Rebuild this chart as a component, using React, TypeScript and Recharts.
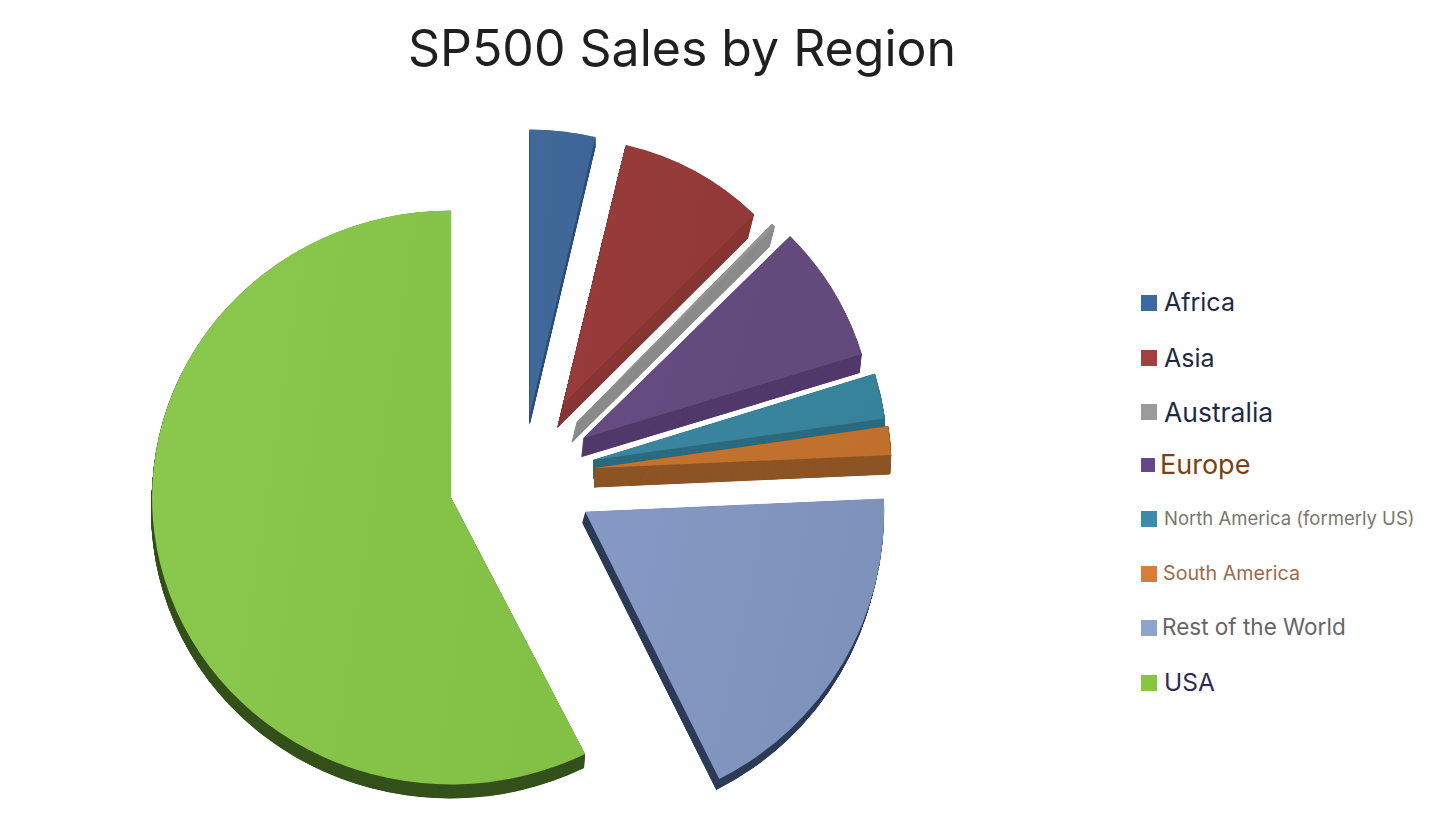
import React from 'react';
import { PieChart, Pie, Sector, Legend } from 'recharts';

const regions = ['Africa', 'Asia', 'Australia', 'Europe', 'North America (formerly US)', 'South America', 'Rest of the World', 'USA'];
const sales = [3.7, 8.67, 0.2, 7.7, 2.47, 1.56, 18.3, 57.4];

const topLight = ['#41699b', '#983c3b', '#989898', '#664c81', '#3a87a1', '#c77330', '#8599c4', '#8ac84e'];
const topDark = ['#3d6594', '#923a38', '#949494', '#624a7c', '#37829b', '#c06f2d', '#7d92bb', '#82c046'];
const sideColors = ['#2f4f78', '#863532', '#8c8c8c', '#523a6b', '#2c6b7f', '#8d5525', '#2f3d58', '#35521c'];
const swatchColors = ['#3d6a9e', '#a33f3f', '#9b9b9b', '#64488a', '#3d8ba8', '#d97b39', '#8ea3cd', '#86c640'];

// how far each slice is pulled out, and the small skew of that pull (degrees clockwise)
const explode = [65.4, 86, 79.2, 73.2, 72.8, 73, 69.8, 74];
const explodeTurn = [-0.8, -1, -1.85, -4, -3.3, -4.1, -3.4, -0.3];
// the picture is a perspective view: far slices look smaller, near ones flatter
const scaleX = [0.955, 0.91, 0.93, 0.975, 0.985, 0.99, 1, 1];
const scaleY = [0.955, 0.89, 0.93, 0.96, 0.985, 0.99, 1, 0.96];
const sideX = [0, -6, -5, -2, 0, -1, -3, -1];
const sideY = [10, 24, 20, 19, 18, 19, 11, 14];

const legendTextColors = ['#1f2a44', '#1f2a44', '#1f2a44', '#7a4210', '#77776a', '#9a6a4a', '#666666', '#2f2a55'];
const legendFontSizes = [25, 25, 26.5, 27, 18.5, 19.7, 22.5, 24.5];
const legendRowY = [302, 358, 412, 465, 518, 573, 627, 682];
const legendTextX = [1164, 1164, 1164, 1160, 1164, 1163, 1162, 1164];
const swatchY = [303, 358, 412, 465, 519, 574, 628, 683];
const swatchSize = [16, 16, 16, 14, 16, 16, 16, 16];

const CENTER_X = 523;
const CENTER_Y = 480;
const RADIUS = 299;
const FONT = 'Inter, Roboto, sans-serif';

const data = regions.map((name, i) => ({ name, value: sales[i] }));

const RAD = Math.PI / 180;

// exploded 3d slice: stack of dark copies for the side, then the top face
function Slice3D(props: any) {
  const { cx, cy, outerRadius, startAngle, endAngle, midAngle, index } = props;
  const angle = (midAngle - explodeTurn[index]) * RAD;
  const dx = explode[index] * Math.cos(angle);
  const dy = -explode[index] * Math.sin(angle);
  const at = (sx: number, sy: number) =>
    `translate(${cx + dx + sx},${cy + dy + sy}) scale(${scaleX[index]},${scaleY[index]}) translate(${-cx},${-cy})`;
  const sector = { cx, cy, innerRadius: 0, outerRadius, startAngle, endAngle };
  // thin slices fade out at the tip without a hairline
  const hairline = sales[index] < 3 ? sideColors[index] : 'none';
  const steps = sideY[index] * 3;
  const layers = [];
  for (let s = steps; s > 0; s--) layers.push(s / steps);
  return (
    <g>
      {layers.map(t => (
        <g key={t} transform={at(sideX[index] * t, sideY[index] * t)}>
          <Sector {...sector} fill={sideColors[index]} stroke={hairline} strokeWidth={1} />
        </g>
      ))}
      <g transform={at(0, 0)}>
        <Sector {...sector} fill={`url(#face-${index})`} stroke="none" />
      </g>
    </g>
  );
}

function RegionLegend() {
  return (
    <div style={{ position: 'relative', width: 1440, height: 839 }}>
      {regions.map((name, i) => (
        <React.Fragment key={name}>
          <div style={{ position: 'absolute', left: 1141, top: swatchY[i] - swatchSize[i] / 2, width: swatchSize[i], height: swatchSize[i], background: swatchColors[i] }} />
          <div style={{ position: 'absolute', left: legendTextX[i], top: legendRowY[i] - 20, height: 40, lineHeight: '40px', fontSize: legendFontSizes[i], color: legendTextColors[i], fontFamily: FONT, whiteSpace: 'nowrap' }}>
            {name}
          </div>
        </React.Fragment>
      ))}
    </div>
  );
}

export default function App() {
  return (
    <div style={{ position: 'absolute', left: 0, top: 0, width: 1440, height: 839, background: '#fff' }}>
      <PieChart width={1440} height={839} margin={{ top: 0, right: 0, bottom: 0, left: 0 }}>
        <defs>
          {regions.map((name, i) => (
            <linearGradient key={name} id={`face-${i}`} x1="0" y1="0" x2="1" y2="0.2">
              <stop offset="0%" stopColor={topLight[i]} />
              <stop offset="100%" stopColor={topDark[i]} />
            </linearGradient>
          ))}
        </defs>
        <text x={682} y={66} textAnchor="middle" fontFamily={FONT} fontSize={50} fill="#1f1f1f">
          SP500 Sales by Region
        </text>
        <Pie
          data={data}
          dataKey="value"
          nameKey="name"
          cx={CENTER_X}
          cy={CENTER_Y}
          innerRadius={0}
          outerRadius={RADIUS}
          startAngle={90}
          endAngle={-270}
          paddingAngle={0}
          stroke="none"
          shape={Slice3D}
          isAnimationActive={false}
        />
        <Legend content={RegionLegend} wrapperStyle={{ position: 'absolute', left: 0, top: 0, width: 1440, height: 839 }} />
      </PieChart>
    </div>
  );
}
